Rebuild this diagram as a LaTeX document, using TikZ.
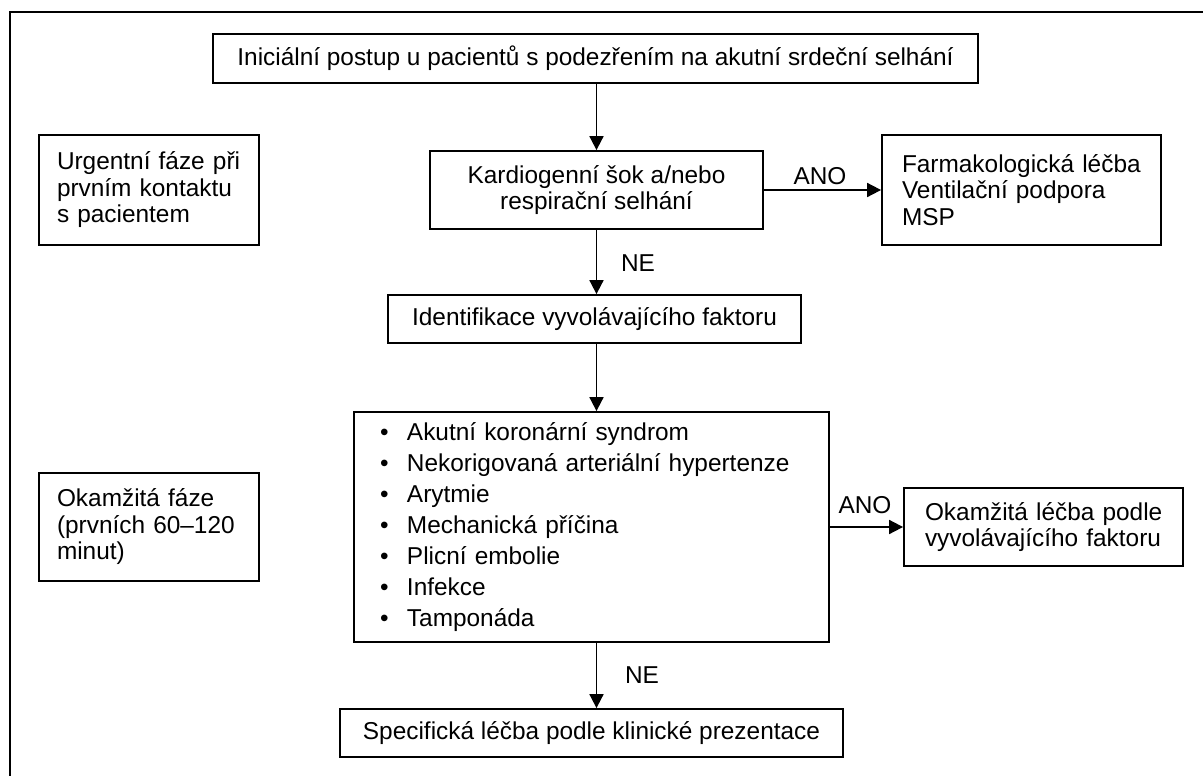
\documentclass[tikz,border=0pt]{standalone}
\usepackage{fontspec}
\setmainfont{Liberation Sans}
\usetikzlibrary{arrows.meta}
\begin{document}
\begin{tikzpicture}[x=1pt,y=-1pt,
  box/.style={draw=black,line width=1.8pt,rectangle,inner sep=0pt,font=\fontsize{24.4}{26.5}\selectfont},
  lbl/.style={inner sep=0pt,font=\fontsize{24.4}{26.5}\selectfont},
  arr/.style={line width=1.8pt,-{Triangle[length=14pt,width=14pt]}}]
\useasboundingbox (0,0) rectangle (1203,776);
\draw[line width=2.6pt] (10,800) -- (10,12) -- (1230,12);
% boxes
\node[box,minimum width=765pt,minimum height=49pt] (top) at (595.5,58.5) {Iniciální postup u pacientů s podezřením na akutní srdeční selhání};
\node[box,minimum width=220pt,minimum height=110pt,text width=184pt,align=left] (urg) at (149,190) {\mbox{Urgentní fáze při}\\\mbox{prvním kontaktu}\\\mbox{s pacientem}};
\node[box,minimum width=333pt,minimum height=78pt,align=center] (kard) at (596.5,190) {Kardiogenní šok a/nebo\\respirační selhání};
\node[box,minimum width=279pt,minimum height=110pt,text width=239pt,align=left] (farm) at (1021.5,190) {\mbox{Farmakologická léčba}\\\mbox{Ventilační podpora}\\MSP};
\node[box,minimum width=413pt,minimum height=48pt] (ident) at (594.5,319) {Identifikace vyvolávajícího faktoru};
\node[box,minimum width=475pt,minimum height=230pt,text width=423pt,align=left,font=\fontsize{24.4}{31}\selectfont] (list) at (591.5,527) {%
\makebox[27pt][l]{•}Akutní koronární syndrom\\
\makebox[27pt][l]{•}Nekorigovaná arteriální hypertenze\\
\makebox[27pt][l]{•}Arytmie\\
\makebox[27pt][l]{•}Mechanická příčina\\
\makebox[27pt][l]{•}Plicní embolie\\
\makebox[27pt][l]{•}Infekce\\
\makebox[27pt][l]{•}Tamponáda};
\node[box,minimum width=279pt,minimum height=78pt,text width=237pt,align=left] (okl) at (1043.5,527) {\mbox{Okamžitá léčba podle}\\\mbox{vyvolávajícího faktoru}};
\node[box,minimum width=220pt,minimum height=108pt,text width=184pt,align=left] (okf) at (149,527) {\mbox{Okamžitá fáze}\\\mbox{(prvních 60–120}\\\mbox{minut)}};
\node[box,minimum width=503pt,minimum height=48pt] (spec) at (591.5,733) {Specifická léčba podle klinické prezentace};
% connectors
\draw[arr] (top.south -| kard.north) -- (kard.north);
\draw[arr] (kard.south) -- (kard.south |- ident.north);
\draw[arr] (ident.south -| kard.south) -- (kard.south |- list.north);
\draw[arr] (kard.south |- list.south) -- (kard.south |- spec.north);
\draw[arr] (kard.east) -- (kard.east -| farm.west);
\draw[arr] (list.east |- okl.west) -- (okl.west);
% labels
\node[lbl] (ano1) at (820,176) {ANO};
\node[lbl] (ne1) at (638,263) {NE};
\node[lbl] (ano2) at (865,505) {ANO};
\node[lbl] (ne2) at (642,675) {NE};
\end{tikzpicture}
\end{document}
